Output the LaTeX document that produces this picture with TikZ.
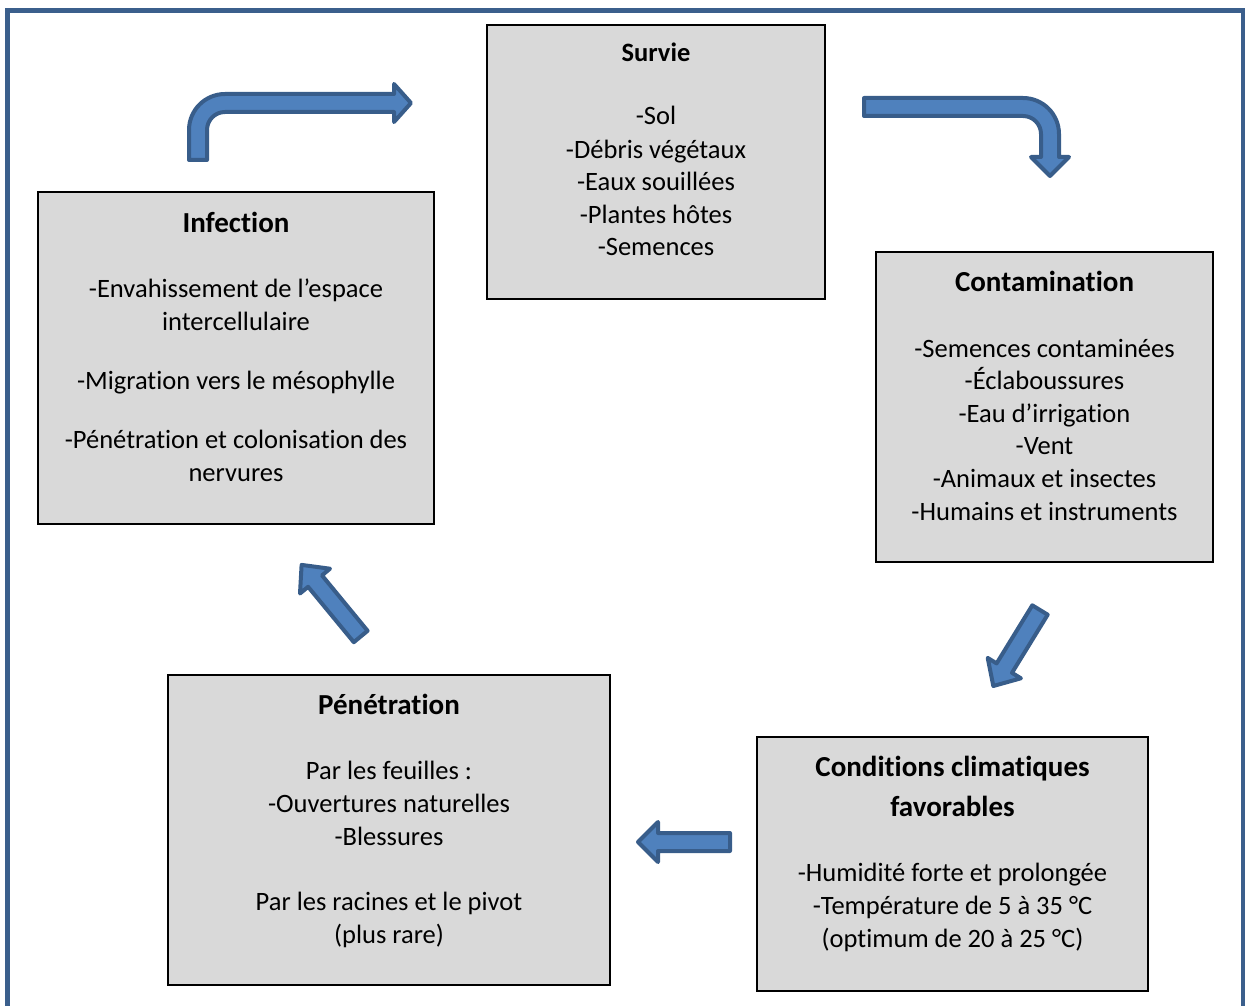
\documentclass[tikz,border=0pt]{standalone}
\usepackage{fontspec}
\setmainfont{Carlito}[RawFeature={-liga;-clig;-calt;-dlig}]
\definecolor{framecol}{HTML}{3B5F8C}
\definecolor{arrowfill}{HTML}{4F81BD}
\definecolor{arrowline}{HTML}{385D8A}
\definecolor{boxfill}{HTML}{D9D9D9}
\begin{document}
\begin{tikzpicture}[x=1pt,y=-1pt,
  box/.style={draw=black,line width=1.2pt,fill=boxfill,rectangle,inner sep=0pt},
  txt/.style={anchor=base,inner sep=0pt,font=\fontsize{26.5}{33}\selectfont},
  ttl/.style={anchor=base,inner sep=0pt,font=\fontsize{29}{36}\selectfont\bfseries},
  blockarrow/.style={fill=arrowfill,draw=arrowline,line width=4pt,line join=round}]
\useasboundingbox (0,0) rectangle (1245,1006);
\clip (0,0) rectangle (1245,1006);
% outer frame
\draw[framecol,line width=5pt] (7.5,10.5) rectangle (1243.5,1020);

% boxes
\node[box,minimum width=338pt,minimum height=274pt] (survie) at (656,162) {};
\node[box,minimum width=396pt,minimum height=332pt] (infection) at (236,358) {};
\node[box,minimum width=337pt,minimum height=310pt] (contam) at (1044.5,407) {};
\node[box,minimum width=391pt,minimum height=254pt] (climat) at (952.5,864) {};
\node[box,minimum width=442pt,minimum height=310pt] (penet) at (389,830) {};

% Survie
\node[txt,font=\fontsize{26.5}{33}\selectfont\bfseries] (s0) at (656,62) {Survie};
\node[txt] (s1) at (656,125) {-Sol};
\node[txt] (s2) at (656,158) {-Débris végétaux};
\node[txt] (s3) at (656,190) {-Eaux souillées};
\node[txt] (s4) at (656,223) {-Plantes hôtes};
\node[txt] (s5) at (656,255) {-Semences};

% Infection
\node[ttl] (i0) at (236,232) {Infection};
\node[txt] (i1) at (236,297) {-Envahissement de l’espace};
\node[txt] (i2) at (236,330) {intercellulaire};
\node[txt] (i3) at (236,389) {-Migration vers le mésophylle};
\node[txt] (i4) at (236,448) {-Pénétration et colonisation des};
\node[txt] (i5) at (236,481) {nervures};

% Contamination
\node[ttl] (c0) at (1044.5,291) {Contamination};
\node[txt] (c1) at (1044.5,357) {-Semences contaminées};
\node[txt] (c2) at (1044.5,389) {-Éclaboussures};
\node[txt] (c3) at (1044.5,422) {-Eau d’irrigation};
\node[txt] (c4) at (1044.5,454) {-Vent};
\node[txt] (c5) at (1044.5,487) {-Animaux et insectes};
\node[txt] (c6) at (1044.5,520) {-Humains et instruments};

% Conditions climatiques
\node[ttl] (k0) at (952.5,776) {Conditions climatiques};
\node[ttl] (k1) at (952.5,816) {favorables};
\node[txt] (k2) at (952.5,881) {-Humidité forte et prolongée};
\node[txt] (k3) at (952.5,914) {-Température de 5 à 35 °C};
\node[txt] (k4) at (952.5,947) {(optimum de 20 à 25 °C)};

% Pénétration
\node[ttl] (p0) at (389,714) {Pénétration};
\node[txt] (p1) at (389,779) {Par les feuilles :};
\node[txt] (p2) at (389,812) {-Ouvertures naturelles};
\node[txt] (p3) at (389,845) {-Blessures};
\node[txt] (p4) at (389,910) {Par les racines et le pivot};
\node[txt] (p5) at (389,943) {(plus rare)};

% block arrows
% Infection -> Survie (bent up-right)
\draw[blockarrow] (189,160) -- (189,130) arc[start angle=180,end angle=270,radius=36]
  -- (394,94) -- (394,84) -- (411,103) -- (394,122) -- (394,112) -- (225,112)
  arc[start angle=270,end angle=180,radius=18] -- (207,160) -- cycle;
% Survie -> Contamination (bent right-down)
\draw[blockarrow] (864,98) -- (1023,98) arc[start angle=270,end angle=360,radius=36]
  -- (1059,157) -- (1069,157) -- (1050,176) -- (1031,157) -- (1041,157) -- (1041,134)
  arc[start angle=0,end angle=-90,radius=18] -- (864,116) -- cycle;
% Contamination -> Conditions (diagonal)
\draw[blockarrow] (1032.3,605.3) -- (996.6,663.4) -- (987.7,657.9) -- (993.3,686)
  -- (1020.9,678.3) -- (1012.0,672.8) -- (1047.7,614.7) -- cycle;
% Conditions -> Pénétration (left)
\draw[blockarrow] (730,833) -- (658,833) -- (658,822) -- (638,842) -- (658,862)
  -- (658,851) -- (730,851) -- cycle;
% Pénétration -> Infection (diagonal up-left)
\draw[blockarrow] (353.8,642.2) -- (308.1,586.8) -- (300.0,593.5) -- (301.6,564.9)
  -- (330.0,568.7) -- (322.0,575.4) -- (367.6,630.8) -- cycle;
\end{tikzpicture}
\end{document}
